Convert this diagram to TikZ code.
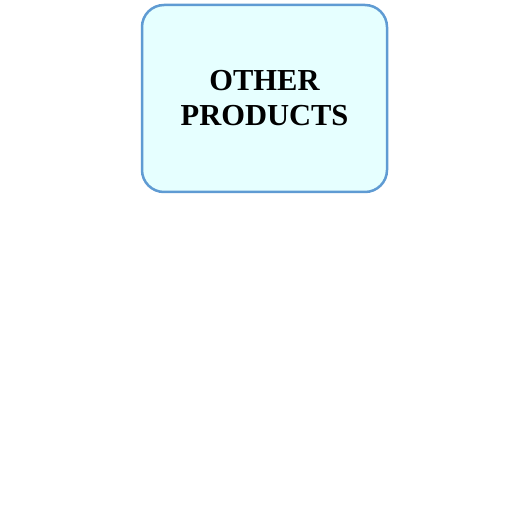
\documentclass[tikz,border=0pt]{standalone}
\usepackage{fontspec}
\setmainfont{Liberation Serif}
\usepackage{tikz}
\definecolor{boxfill}{HTML}{E6FFFF}
\definecolor{boxline}{HTML}{5F9BD3}

\begin{document}
\begin{tikzpicture}[x=1pt,y=1pt]

% Box style
\tikzset{
    prodbox/.style={draw=boxline, line width=2.5pt, fill=boxfill,
        rounded corners=22pt, minimum width=245pt, minimum height=187pt,
        align=center, font=\bfseries\fontsize{30.5}{35}\selectfont}
}

% Page size
\useasboundingbox (0,0) rectangle (529,-529);

% Box
\node[prodbox] (OTHER) at (264.5,-98.5){OTHER\\PRODUCTS};

\end{tikzpicture}
\end{document}
